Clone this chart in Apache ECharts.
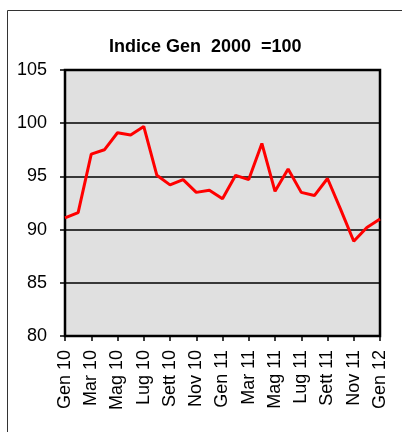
<!DOCTYPE html>
<html>
<head>
<meta charset="utf-8">
<script src="https://cdn.jsdelivr.net/npm/echarts@6/dist/echarts.min.js"></script>
<style>
  html, body { margin: 0; padding: 0; background: #fff; }
  #main { width: 402px; height: 432px; }
</style>
</head>
<body>
<div id="main"></div>
<script>
var months = ['Gen 10', 'Feb 10', 'Mar 10', 'Apr 10', 'Mag 10', 'Giu 10', 'Lug 10', 'Ago 10', 'Sett 10', 'Ott 10', 'Nov 10', 'Dic 10',
              'Gen 11', 'Feb 11', 'Mar 11', 'Apr 11', 'Mag 11', 'Giu 11', 'Lug 11', 'Ago 11', 'Sett 11', 'Ott 11', 'Nov 11', 'Dic 11',
              'Gen 12'];
var indice = [91.1, 91.6, 97.1, 97.5, 99.1, 98.9, 99.7, 95.1, 94.2, 94.7, 93.5, 93.7,
              92.9, 95.1, 94.7, 98.1, 93.6, 95.7, 93.5, 93.2, 94.8, 91.9, 88.9, 90.2,
              91.0];
var yTicks = [80, 85, 90, 95, 100, 105];

var myChart = echarts.init(document.getElementById('main'));

var option = {
  animation: false,
  textStyle: { fontFamily: 'Liberation Sans, Arial, sans-serif' },
  title: {
    text: 'Indice Gen  2000  =100',
    left: 104,
    top: 33,
    textStyle: { fontSize: 18, fontWeight: 'bold', color: '#000', fontFamily: 'Liberation Sans, Arial, sans-serif' }
  },
  graphic: [{
    type: 'rect',
    shape: { x: 7.5, y: 10.5, width: 420, height: 440 },
    style: { fill: 'none', stroke: '#333', lineWidth: 1 },
    silent: true
  }],
  grid: {
    left: 65,
    right: 22,
    top: 70,
    bottom: 96,
    show: true,
    backgroundColor: '#e0e0e0',
    borderColor: '#000',
    borderWidth: 2.5,
    outerBoundsMode: 'none'
  },
  xAxis: {
    type: 'category',
    data: months,
    boundaryGap: false,
    axisLine: { lineStyle: { color: '#000', width: 2 } },
    axisTick: { interval: 1, length: 5, lineStyle: { color: '#000', width: 1.5 } },
    axisLabel: {
      interval: 1,
      rotate: 90,
      margin: 14,
      fontSize: 18,
      color: '#000'
    },
    splitLine: { show: false }
  },
  yAxis: {
    type: 'value',
    min: yTicks[0],
    max: yTicks[yTicks.length - 1],
    interval: 5,
    axisLine: { show: true, lineStyle: { color: '#000', width: 2 } },
    axisTick: { show: true, length: 5, lineStyle: { color: '#000', width: 1.5 } },
    axisLabel: { fontSize: 18, color: '#000', margin: 18 },
    splitLine: { show: true, lineStyle: { color: '#000', width: 1.5 } }
  },
  series: [{
    name: 'Indice',
    type: 'line',
    data: indice,
    showSymbol: false,
    symbol: 'none',
    lineStyle: { color: '#ff0000', width: 3 },
    itemStyle: { color: '#ff0000' }
  }]
};

myChart.setOption(option);
</script>
</body>
</html>
